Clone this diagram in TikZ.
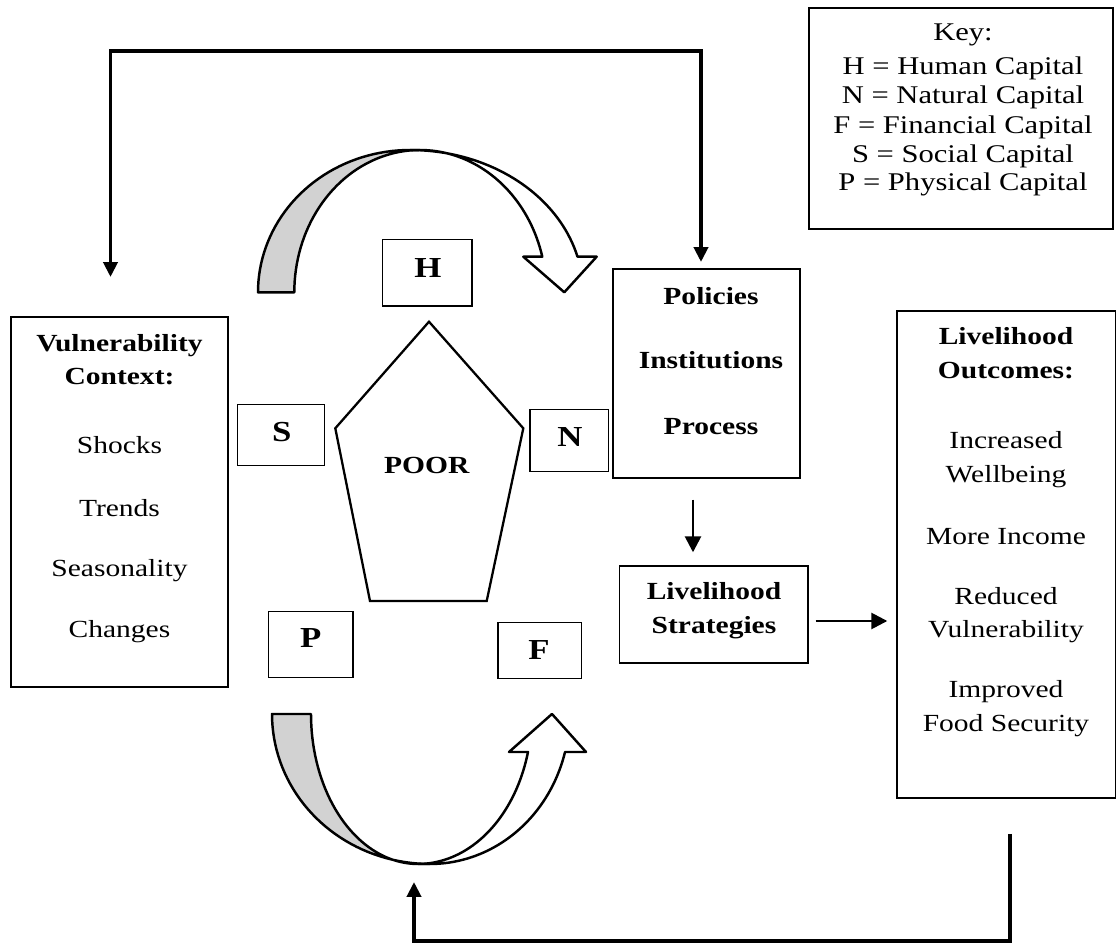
\documentclass[tikz,border=0pt]{standalone}
\usepackage{fontspec}
\setmainfont[FakeStretch=1.2]{Liberation Serif}
\usetikzlibrary{arrows.meta,calc}
\begin{document}
\begin{tikzpicture}[x=0.02cm,y=-0.02cm,
 box/.style={draw, line width=0.8pt, inner sep=0pt},
 txt/.style={anchor=base, inner sep=0pt, font=\fontsize{14}{16}\selectfont},
 keytxt/.style={anchor=base, inner sep=0pt, font=\fontsize{14.5}{16}\selectfont},
 btxt/.style={anchor=base, inner sep=0pt, font=\fontsize{14}{16}\selectfont\bfseries},
 captxt/.style={inner sep=0pt, font=\fontsize{16.5}{18}\selectfont\bfseries},
 arr/.style={line width=1.5pt, -{Triangle[width=9pt,length=9pt]}},
 loopline/.style={line width=2.1pt, line join=miter},
 curve/.style={line width=1.4pt, line join=round}
]
\useasboundingbox (0,0) rectangle (1117,945);

% boxes
\node[box, minimum width={304*0.02cm}, minimum height={221*0.02cm}] (key) at (961,118.5) {};
\node[box, minimum width={217*0.02cm}, minimum height={370*0.02cm}] (vul) at (119.5,502) {};
\node[box, minimum width={187*0.02cm}, minimum height={209*0.02cm}] (pol) at (706.5,373.5) {};
\node[box, minimum width={188.5*0.02cm}, minimum height={97*0.02cm}] (strat) at (713.75,614.5) {};
\node[box, minimum width={218.5*0.02cm}, minimum height={487*0.02cm}] (out) at (1006.25,554.5) {};
\node[box, minimum width={89.7*0.02cm}, minimum height={66.7*0.02cm}] (hb) at (427.15,272.65) {};
\node[box, minimum width={87*0.02cm}, minimum height={61*0.02cm}] (sb) at (280.8,434.8) {};
\node[box, minimum width={78.3*0.02cm}, minimum height={62.4*0.02cm}] (nb) at (569.15,440.5) {};
\node[box, minimum width={84.7*0.02cm}, minimum height={66*0.02cm}] (pb) at (310.65,644.7) {};
\node[box, minimum width={83.3*0.02cm}, minimum height={56*0.02cm}] (fb) at (539.65,650.7) {};

% key text
\node[keytxt] (k0) at (963,41) {Key:};
\node[keytxt] (k1) at (963,75) {H = Human Capital};
\node[keytxt] (k2) at (963,104) {N = Natural Capital};
\node[keytxt] (k3) at (963,134) {F = Financial Capital};
\node[keytxt] (k4) at (963,163) {S = Social Capital};
\node[keytxt] (k5) at (963,191) {P = Physical Capital};

% vulnerability text
\node[btxt] (v1) at (119.5,352) {Vulnerability};
\node[btxt] (v2) at (119.5,385) {Context:};
\node[txt] (v3) at (119.5,454) {Shocks};
\node[txt] (v4) at (119.5,517) {Trends};
\node[txt] (v5) at (119.5,577) {Seasonality};
\node[txt] (v6) at (119.5,638) {Changes};

% policies text
\node[btxt] (p1) at (711,305) {Policies};
\node[btxt] (p2) at (711,369) {Institutions};
\node[btxt] (p3) at (711,435) {Process};

% strategies text
\node[btxt] (s1) at (714,600) {Livelihood};
\node[btxt] (s2) at (714,634) {Strategies};

% outcomes text
\node[btxt] (o1) at (1006,345) {Livelihood};
\node[btxt] (o2) at (1006,379) {Outcomes:};
\node[txt] (o3) at (1006,449) {Increased};
\node[txt] (o4) at (1006,483) {Wellbeing};
\node[txt] (o5) at (1006,545) {More Income};
\node[txt] (o6) at (1006,605) {Reduced};
\node[txt] (o7) at (1006,638) {Vulnerability};
\node[txt] (o8) at (1006,698) {Improved};
\node[txt] (o9) at (1006,732) {Food Security};

% capital letters
\node[captxt] (H) at (428,268) {H};
\node[captxt] (S) at (281.7,431.7) {S};
\node[captxt] (N) at (570,436.7) {N};
\node[captxt] (P) at (310.7,638.3) {P};
\node[captxt] (F) at (539,650) {F};

% pentagon
\draw[line width=1.3pt, line join=miter] (429,321.7) -- (523.3,428.3) -- (486.7,601) -- (370,601) -- (335.3,428.3) -- cycle;
\node[inner sep=0pt, font=\fontsize{14}{16}\selectfont\bfseries] (poor) at (426.7,465) {POOR};

% top curved arrow
\filldraw[curve, fill=white] plot[domain=90:14.5, samples=40, variable=\t] ({410+173*cos(\t)},{292.3-142.3*sin(\t)})
  -- (596.7,256.7) -- (564.3,292.3) -- (523.3,256.7)
  -- plot[domain=14.5:90, samples=40, variable=\t] ({420+126.3*cos(\t)},{292.3-142.3*sin(\t)}) -- cycle;
\filldraw[curve, fill=gray!35] plot[domain=180:90, samples=40, variable=\t] ({410+152*cos(\t)},{292.3-142.3*sin(\t)})
  -- plot[domain=90:180, samples=40, variable=\t] ({420+125.7*cos(\t)},{292.3-142.3*sin(\t)}) -- cycle;

% bottom curved arrow
\filldraw[curve, fill=white] plot[domain=90:14.67, samples=40, variable=\t] ({430+139.6*cos(\t)},{714+150*sin(\t)})
  -- (586,752) -- (552,714) -- (509,752)
  -- plot[domain=14.67:90, samples=40, variable=\t] ({418+113.7*cos(\t)},{714+150*sin(\t)}) -- cycle;
\filldraw[curve, fill=gray!35] plot[domain=180:90, samples=40, variable=\t] ({430+158*cos(\t)},{714+150*sin(\t)})
  -- plot[domain=90:180, samples=40, variable=\t] ({418+107*cos(\t)},{714+150*sin(\t)}) -- cycle;

% connectors
\coordinate (ax) at (693,0);
\coordinate (ay) at (0,621);
\draw[arr, shorten <=0.42cm, shorten >=0.26cm] (pol.south -| ax) -- (strat.north -| ax);
\draw[arr, shorten <=0.14cm, shorten >=0.18cm] (strat.east |- ay) -- (out.west |- ay);

% top feedback loop
\coordinate (vtip) at (110.5,277);
\coordinate (tl) at (110.5,50.7);
\coordinate (tr) at (701,50.7);
\coordinate (ptip) at (701,262);
\draw[loopline, {Triangle[width=8pt,length=8.5pt]}-{Triangle[width=8pt,length=8.5pt]}] (vtip) -- (tl) -- (tr) -- (ptip);

% bottom feedback loop
\coordinate (bstart) at (1010,834);
\coordinate (bl) at (1010,941);
\coordinate (br) at (414,941);
\coordinate (btip) at (414,882);
\draw[loopline, -{Triangle[width=8pt,length=8.5pt]}] (bstart) -- (bl) -- (br) -- (btip);
\end{tikzpicture}
\end{document}
